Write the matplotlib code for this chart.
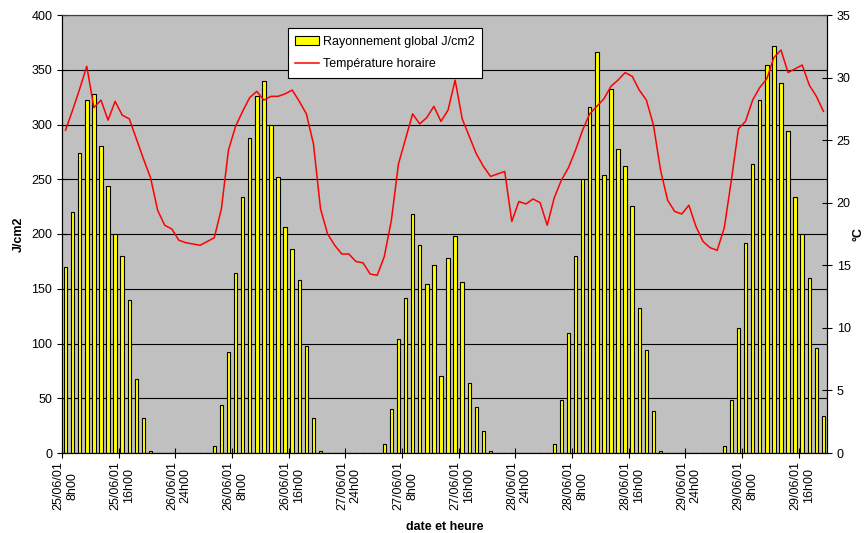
import matplotlib.pyplot as plt
import numpy as np

plt.rcParams['font.family'] = ['Liberation Sans', 'DejaVu Sans']

# rayonnement global horaire (J/cm2), du 25/06/01 8h00 au 29/06/01 19h00
rayonnement = [170, 220, 274, 322, 328, 280, 244, 200, 180, 140, 68, 32, 2,
               0, 0, 0, 0, 0, 0, 0, 0,
               6, 44, 92, 164, 234, 288, 326, 340, 300, 252, 206, 186, 158, 98, 32, 2,
               0, 0, 0, 0, 0, 0, 0, 0,
               8, 40, 104, 142, 218, 190, 154, 172, 70, 178, 198, 156, 64, 42, 20, 2,
               0, 0, 0, 0, 0, 0, 0, 0,
               8, 48, 110, 180, 250, 316, 366, 254, 332, 278, 262, 226, 132, 94, 38, 2,
               0, 0, 0, 0, 0, 0, 0, 0,
               6, 48, 114, 192, 264, 322, 354, 372, 338, 294, 234, 200, 160, 96, 34]

# température horaire (°C)
temperature = [25.8, 27.4, 29.1, 30.9, 27.6, 28.2, 26.6, 28.1, 27.0, 26.7,
               25.1, 23.5, 22.0, 19.4, 18.2, 17.9, 17.0, 16.8, 16.7, 16.6,
               16.9, 17.2, 19.5, 24.2, 26.1, 27.3, 28.4, 28.9, 28.2, 28.5,
               28.5, 28.7, 29.0, 28.1, 27.1, 24.7, 19.5, 17.5, 16.6, 15.9,
               15.9, 15.3, 15.2, 14.3, 14.2, 15.7, 18.6, 23.1, 25.1, 27.1,
               26.3, 26.8, 27.7, 26.5, 27.4, 29.8, 26.7, 25.3, 23.9, 22.9,
               22.1, 22.3, 22.5, 18.5, 20.1, 19.9, 20.3, 20.0, 18.2, 20.4,
               21.8, 22.8, 24.2, 25.8, 27.1, 27.7, 28.3, 29.3, 29.8, 30.4,
               30.1, 29.0, 28.2, 26.2, 22.6, 20.2, 19.3, 19.1, 19.8, 18.1,
               16.9, 16.4, 16.2, 18.0, 21.8, 25.9, 26.5, 28.2, 29.2, 29.9,
               31.6, 32.2, 30.4, 30.7, 31.0, 29.4, 28.5, 27.3]

etiquettes = ["25/06/01\n8h00", "25/06/01\n16h00", "26/06/01\n24h00",
              "26/06/01\n8h00", "26/06/01\n16h00", "27/06/01\n24h00",
              "27/06/01\n8h00", "27/06/01\n16h00", "28/06/01\n24h00",
              "28/06/01\n8h00", "28/06/01\n16h00", "29/06/01\n24h00",
              "29/06/01\n8h00", "29/06/01\n16h00"]

x = np.arange(len(rayonnement))

fig = plt.figure(figsize=(8.68, 5.33), dpi=100)
ax = fig.add_axes([62/868, 1 - 453/533, 765/868, 438/533])
ax.set_facecolor('#C0C0C0')

ax.bar(x, rayonnement, width=0.5, color='#FFFF00', edgecolor='black',
       linewidth=0.8, label='Rayonnement global J/cm2', zorder=2)
ax.set_ylim(0, 400)
ax.set_yticks(range(0, 401, 50))
ax.set_xlim(-0.5, len(x) - 0.5)
ax.yaxis.grid(True, color='black', linewidth=0.8)
ax.set_axisbelow(True)

# graduations entre les catégories, étiquettes centrées sur les catégories
ax.set_xticks(np.arange(-0.5, len(x), 8))
ax.set_xticklabels([])
ax.set_xticks(np.arange(0, len(x), 8), minor=True)
ax.set_xticklabels(etiquettes, minor=True, rotation=90, ha='center',
                   va='top', multialignment='center', fontsize=9)
ax.tick_params(axis='x', which='minor', length=0, pad=6)
ax.tick_params(axis='x', which='major', length=7, direction='inout')
ax.tick_params(axis='y', labelsize=9, length=7, direction='inout')

ax.set_ylabel('J/cm2', fontsize=9, fontweight='bold')
ax.yaxis.set_label_coords(-0.049, 0.5)
ax.set_xlabel('date et heure', fontsize=9, fontweight='bold', labelpad=8)

ax2 = ax.twinx()
ax2.plot(x, temperature, color='#FF0000', linewidth=1.1,
         label='Température horaire')
ax2.set_ylim(0, 35)
ax2.set_yticks(range(0, 36, 5))
ax2.tick_params(axis='y', labelsize=9, length=7, direction='inout')
ax2.set_ylabel('°C', fontsize=9, fontweight='bold')
ax2.yaxis.set_label_coords(1.033, 0.5)

for a in (ax, ax2):
    a.spines['top'].set_color('#404040')

h1, l1 = ax.get_legend_handles_labels()
h2, l2 = ax2.get_legend_handles_labels()
leg = ax2.legend(h1 + h2, l1 + l2, loc='upper left',
                 bbox_to_anchor=(0.287, 0.984), fontsize=9, fancybox=False,
                 framealpha=1, edgecolor='black', borderpad=0.6,
                 labelspacing=0.85, handlelength=1.9, handletextpad=0.3)
leg.get_frame().set_linewidth(0.8)

fig.savefig('out.png', dpi=100)
